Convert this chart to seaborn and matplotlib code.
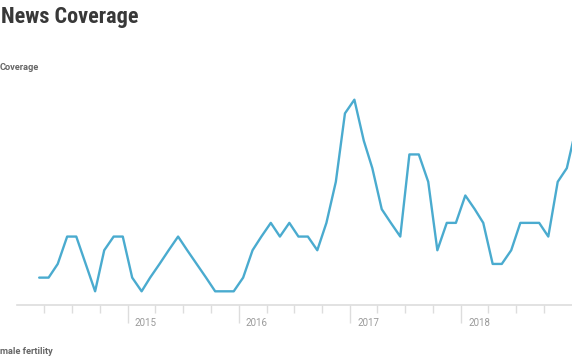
import matplotlib
matplotlib.use("Agg")
import matplotlib.pyplot as plt
import matplotlib.transforms as mtransforms
from matplotlib import font_manager
import seaborn as sns
import pandas as pd

# ---- data ----
months = pd.date_range("2014-03-01", "2019-01-01", freq="MS") + pd.Timedelta(days=14)
coverage = [
    2, 2, 3, 5, 5, 3, 1, 4, 5, 5,                 # 2014 Mar-Dec
    2, 1, 2, 3, 4, 5, 4, 3, 2, 1, 1, 1,           # 2015
    2, 4, 5, 6, 5, 6, 5, 5, 4, 6, 9, 14,          # 2016
    15, 12, 10, 7, 6, 5, 11, 11, 9, 4, 6, 6,      # 2017
    8, 7, 6, 3, 3, 4, 6, 6, 6, 5, 9, 10,          # 2018
    13,                                           # 2019 Jan
]
year_ticks = ["2015", "2016", "2017", "2018"]
quarter_ticks = pd.date_range("2014-04-01", "2018-10-01", freq="QS")
title = "News Coverage"
y_label = "Coverage"
footer = "Female fertility"

df = pd.DataFrame({"date": months, "coverage": coverage})

sns.set_theme(style="white")
plt.rcParams["font.family"] = ["Roboto", "DejaVu Sans"]

names = {f.name for f in font_manager.fontManager.ttflist}
title_family = None
for cand in ["Roboto Condensed", "Liberation Sans Narrow", "DejaVu Sans Condensed"]:
    if cand in names:
        title_family = cand
        break

fig = plt.figure(figsize=(5.72, 3.64), dpi=100)
ax = fig.add_axes([17 / 572, 59 / 364, 555 / 572, 219 / 364])

sns.lineplot(data=df, x="date", y="coverage", ax=ax, color="#4aabcf",
             linewidth=1.7)

ax.set_xlim(pd.Timestamp("2014-01-01"), pd.Timestamp("2019-01-01"))
ax.set_ylim(0, 16)

for s in ["top", "right", "left"]:
    ax.spines[s].set_visible(False)
ax.spines["bottom"].set_color("#dddddd")
ax.spines["bottom"].set_linewidth(1.2)

ax.set_yticks([])
ax.set_ylabel("")
ax.set_xlabel("")

year_dates = [pd.Timestamp(f"{y}-01-01") for y in year_ticks]
ax.set_xticks(year_dates)
ax.set_xticklabels(year_ticks)
ax.set_xticks([d for d in quarter_ticks if d not in year_dates], minor=True)
ax.tick_params(axis="x", which="major", length=13, width=1, color="#dddddd",
               direction="out", pad=-4.0, labelsize=7, labelcolor="#9a9a9a",
               bottom=True)
ax.tick_params(axis="x", which="minor", length=5.5, width=1, color="#dddddd",
               direction="out", bottom=True)
offset = mtransforms.ScaledTranslation(7 / 100, 0, fig.dpi_scale_trans)
for lab in ax.get_xticklabels():
    lab.set_ha("left")
    lab.set_transform(lab.get_transform() + offset)

if title_family == "DejaVu Sans Condensed" or title_family is None:
    fig.text(0.002, 1 - 17 / 364, title, fontsize=14, fontweight="bold",
             color="#383838", va="center", ha="left",
             family=[title_family or "Roboto", "Roboto"])
else:
    fig.text(0.002, 1 - 17 / 364, title, fontsize=16, fontweight="bold",
             color="#383838", va="center", ha="left",
             family=[title_family, "Roboto"])
fig.text(0.0, 1 - 67 / 364, y_label, fontsize=6.7, fontweight="bold",
         color="#666666", va="center", ha="left")
fig.text(-10 / 572, 1 - 352 / 364, footer, fontsize=6.7, fontweight="bold",
         color="#666666", va="center", ha="left")

fig.savefig("out.png", dpi=100)
